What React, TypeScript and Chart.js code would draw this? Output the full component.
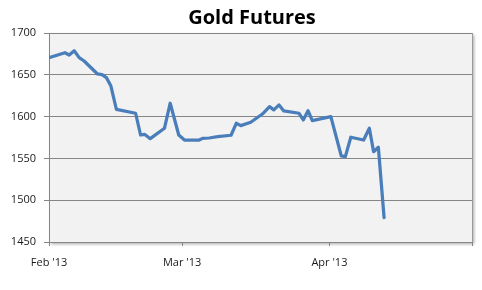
import React, { useEffect, useRef } from "react";
import { Chart, registerables } from "chart.js";

Chart.register(...registerables);

// Days since Feb 1, 2013
const days = [
  0, 3.35, 4.25, 5.3, 6.35, 7.39, 10.2, 11.16, 12.08, 13.0, 14.18, 18.22, 19.27, 20.1, 21.3,
  24.3, 25.5, 27.3, 28.5, 31.6, 32.3, 33.7, 35.5, 38.3, 39.4, 40.35, 42.45, 44.9, 46.4, 47.3,
  48.4, 49.4, 52.6, 53.5, 54.5, 55.4, 59.3, 61.5, 62.35, 63.5, 66.2, 67.4, 68.3, 69.3, 70.5,
];
const prices = [
  1670.5, 1676.4, 1673.7, 1678.8, 1670.5, 1666.5, 1651.0, 1650.2, 1646.6, 1637.0, 1608.7, 1604.0, 1578.0, 1578.8, 1573.6,
  1586.1, 1616.0, 1578.0, 1572.0, 1572.0, 1574.0, 1574.4, 1576.0, 1577.7, 1592.0, 1589.2, 1593.2, 1603.1, 1611.9, 1608.0,
  1614.0, 1606.8, 1604.0, 1596.0, 1607.1, 1595.2, 1600.0, 1552.9, 1552.1, 1575.3, 1572.0, 1586.0, 1558.0, 1563.3, 1479.1,
];
const monthTicks = [0, 28, 59, 89];
const monthLabels = ["Feb '13", "Mar '13", "Apr '13", ""];
const yTicks = [1450, 1500, 1550, 1600, 1650, 1700];
const titleText = "Gold Futures";

const plotBg = {
  id: "plotBg",
  beforeDraw(chart: any) {
    const { ctx, chartArea } = chart;
    const { left, top, right, bottom } = chartArea;
    ctx.save();
    ctx.shadowColor = "rgba(0,0,0,0.35)";
    ctx.shadowBlur = 3;
    ctx.shadowOffsetX = 2;
    ctx.shadowOffsetY = 2;
    ctx.fillStyle = "#f2f2f2";
    ctx.fillRect(left, top, right - left, bottom - top);
    ctx.restore();
    // title
    ctx.save();
    ctx.fillStyle = "#000";
    ctx.font = "bold 20px 'Open Sans'";
    ctx.textAlign = "center";
    ctx.textBaseline = "middle";
    ctx.fillText(titleText, 252, 18);
    ctx.restore();
  },
  beforeDatasetsDraw(chart: any) {
    const { ctx, chartArea } = chart;
    const { top, right, bottom } = chartArea;
    ctx.save();
    ctx.strokeStyle = "#9a9a9a";
    ctx.lineWidth = 1;
    ctx.beginPath();
    ctx.moveTo(Math.round(right) + 0.5, top);
    ctx.lineTo(Math.round(right) + 0.5, bottom);
    ctx.stroke();
    ctx.restore();
  },
};

export default function App() {
  const ref = useRef<HTMLCanvasElement | null>(null);
  useEffect(() => {
    if (!ref.current) return;
    const chart = new Chart(ref.current, {
      type: "line",
      data: {
        datasets: [
          {
            data: days.map((d, i) => ({ x: d, y: prices[i] })),
            borderColor: "#4a7ebb",
            borderWidth: 3.25,
            pointRadius: 0,
            borderJoinStyle: "round",
            borderCapStyle: "round",
            tension: 0,
            fill: false,
          },
        ],
      },
      options: {
        responsive: false,
        animation: false,
        layout: { padding: { left: 0, right: 8, top: 33, bottom: 0 } },
        plugins: {
          legend: { display: false },
          tooltip: { enabled: false },
          title: { display: false },
        },
        scales: {
          x: {
            type: "linear",
            min: monthTicks[0],
            max: monthTicks[monthTicks.length - 1],
            afterBuildTicks: (scale: any) => {
              scale.ticks = monthTicks.map((v) => ({ value: v }));
            },
            afterFit: (scale: any) => {
              scale.height = 48;
            },
            ticks: {
              autoSkip: false,
              maxRotation: 0,
              padding: 10,
              color: "#1a1a1a",
              font: { family: "Open Sans", size: 11 },
              callback: (v: any) => {
                const i = monthTicks.indexOf(Number(v));
                return i >= 0 ? monthLabels[i] : "";
              },
            },
            grid: {
              drawOnChartArea: false,
              drawTicks: true,
              tickLength: 4,
              color: "#868686",
            },
            border: { color: "#868686", width: 1 },
          },
          y: {
            min: 1450,
            max: 1700,
            afterBuildTicks: (scale: any) => {
              scale.ticks = yTicks.map((v) => ({ value: v }));
            },
            afterFit: (scale: any) => {
              scale.width = 49;
            },
            ticks: {
              padding: 8,
              color: "#1a1a1a",
              font: { family: "Open Sans", size: 11 },
              callback: (v: any) => String(v),
            },
            grid: {
              color: "#868686",
              tickLength: 5,
            },
            border: { color: "#868686", width: 1 },
          },
        },
      },
      plugins: [plotBg],
    } as any);
    return () => chart.destroy();
  }, []);
  return (
    <div style={{ position: "fixed", left: 0, top: 0, width: 482, height: 290, background: "#fff" }}>
      <canvas ref={ref} width={482} height={290} style={{ display: "block" }} />
    </div>
  );
}
